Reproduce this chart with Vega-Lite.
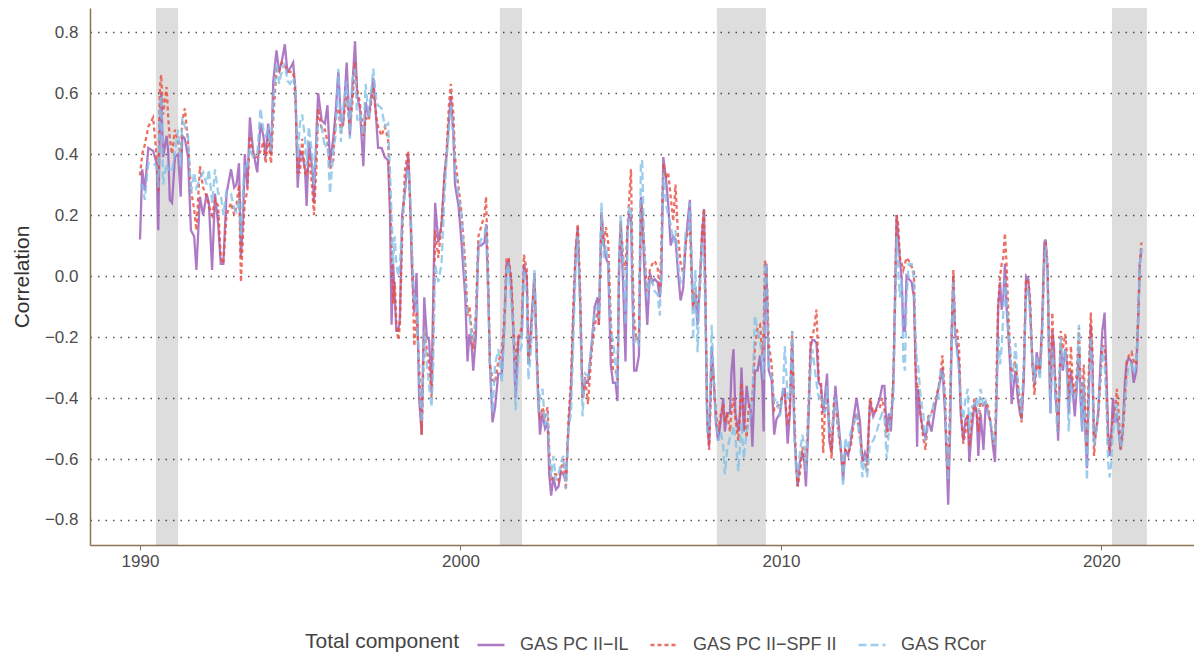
{
 "$schema": "https://vega.github.io/schema/vega-lite/v6.json",
 "width": 1104, "height": 537,
 "autosize": {"type": "none"},
 "padding": {"left": 90, "top": 8, "right": 0, "bottom": 111},
 "background": "white",
 "config": {
  "font": "Liberation Sans",
  "view": {"stroke": null},
  "axis": {"labelFont": "Liberation Sans", "titleFont": "Liberation Sans", "labelColor": "#4d4d4d", "titleColor": "#333333", "domainColor": "#8b7355", "domainWidth": 1.5, "tickColor": "#8b7355", "titleFontWeight": "normal"}
 },
 "datasets": {
  "rec": [
   {"s": 1990.5, "e": 1991.19},
   {"s": 2001.23, "e": 2001.92},
   {"s": 2008.0, "e": 2009.53},
   {"s": 2020.33, "e": 2021.42}
  ],
  "ts": [
{"t":1990.00,"a":0.12,"b":0.33,"c":0.30},
{"t":1990.07,"a":0.35,"b":0.40,"c":0.30},
{"t":1990.15,"a":0.28,"b":0.43,"c":0.25},
{"t":1990.26,"a":0.42,"b":0.49,"c":0.37},
{"t":1990.41,"a":0.41,"b":0.52,"c":0.37},
{"t":1990.52,"a":0.37,"b":0.39,"c":0.36},
{"t":1990.57,"a":0.15,"b":0.28,"c":0.29},
{"t":1990.62,"a":0.51,"b":0.62,"c":0.55},
{"t":1990.66,"a":0.60,"b":0.66,"c":0.59},
{"t":1990.72,"a":0.39,"b":0.53,"c":0.30},
{"t":1990.83,"a":0.46,"b":0.62,"c":0.37},
{"t":1990.88,"a":0.41,"b":0.52,"c":0.35},
{"t":1990.93,"a":0.25,"b":0.45,"c":0.35},
{"t":1991.00,"a":0.24,"b":0.40,"c":0.34},
{"t":1991.09,"a":0.39,"b":0.48,"c":0.41},
{"t":1991.19,"a":0.40,"b":0.44,"c":0.48},
{"t":1991.27,"a":0.26,"b":0.39,"c":0.36},
{"t":1991.32,"a":0.46,"b":0.51,"c":0.52},
{"t":1991.40,"a":0.45,"b":0.55,"c":0.49},
{"t":1991.50,"a":0.39,"b":0.44,"c":0.46},
{"t":1991.59,"a":0.15,"b":0.28,"c":0.27},
{"t":1991.69,"a":0.13,"b":0.22,"c":0.34},
{"t":1991.76,"a":0.02,"b":0.15,"c":0.29},
{"t":1991.87,"a":0.26,"b":0.36,"c":0.32},
{"t":1991.97,"a":0.20,"b":0.29,"c":0.34},
{"t":1992.08,"a":0.27,"b":0.26,"c":0.30},
{"t":1992.15,"a":0.24,"b":0.23,"c":0.35},
{"t":1992.25,"a":0.02,"b":0.20,"c":0.24},
{"t":1992.34,"a":0.27,"b":0.25,"c":0.35},
{"t":1992.44,"a":0.17,"b":0.23,"c":0.27},
{"t":1992.52,"a":0.04,"b":0.06,"c":0.27},
{"t":1992.60,"a":0.04,"b":0.04,"c":0.20},
{"t":1992.70,"a":0.27,"b":0.20,"c":0.28},
{"t":1992.84,"a":0.35,"b":0.24,"c":0.27},
{"t":1992.94,"a":0.29,"b":0.20,"c":0.22},
{"t":1993.01,"a":0.30,"b":0.23,"c":0.21},
{"t":1993.09,"a":0.37,"b":0.30,"c":0.25},
{"t":1993.15,"a":0.06,"b":-0.02,"c":0.13},
{"t":1993.22,"a":0.20,"b":0.15,"c":0.29},
{"t":1993.27,"a":0.40,"b":0.24,"c":0.37},
{"t":1993.35,"a":0.29,"b":0.28,"c":0.36},
{"t":1993.43,"a":0.52,"b":0.46,"c":0.42},
{"t":1993.53,"a":0.41,"b":0.39,"c":0.39},
{"t":1993.66,"a":0.34,"b":0.39,"c":0.40},
{"t":1993.76,"a":0.50,"b":0.41,"c":0.55},
{"t":1993.85,"a":0.46,"b":0.44,"c":0.48},
{"t":1993.92,"a":0.39,"b":0.37,"c":0.46},
{"t":1994.00,"a":0.50,"b":0.45,"c":0.48},
{"t":1994.09,"a":0.40,"b":0.37,"c":0.41},
{"t":1994.16,"a":0.64,"b":0.52,"c":0.57},
{"t":1994.26,"a":0.74,"b":0.68,"c":0.70},
{"t":1994.34,"a":0.67,"b":0.67,"c":0.63},
{"t":1994.42,"a":0.70,"b":0.70,"c":0.67},
{"t":1994.52,"a":0.76,"b":0.69,"c":0.70},
{"t":1994.60,"a":0.67,"b":0.67,"c":0.64},
{"t":1994.68,"a":0.68,"b":0.67,"c":0.63},
{"t":1994.78,"a":0.70,"b":0.67,"c":0.65},
{"t":1994.85,"a":0.61,"b":0.59,"c":0.62},
{"t":1994.92,"a":0.29,"b":0.34,"c":0.39},
{"t":1994.99,"a":0.41,"b":0.34,"c":0.50},
{"t":1995.06,"a":0.40,"b":0.45,"c":0.53},
{"t":1995.15,"a":0.35,"b":0.34,"c":0.45},
{"t":1995.20,"a":0.23,"b":0.33,"c":0.36},
{"t":1995.27,"a":0.44,"b":0.40,"c":0.49},
{"t":1995.38,"a":0.35,"b":0.28,"c":0.39},
{"t":1995.43,"a":0.24,"b":0.20,"c":0.30},
{"t":1995.51,"a":0.48,"b":0.37,"c":0.45},
{"t":1995.56,"a":0.60,"b":0.55,"c":0.50},
{"t":1995.67,"a":0.51,"b":0.48,"c":0.49},
{"t":1995.77,"a":0.50,"b":0.48,"c":0.42},
{"t":1995.85,"a":0.56,"b":0.44,"c":0.44},
{"t":1995.93,"a":0.37,"b":0.35,"c":0.27},
{"t":1996.03,"a":0.45,"b":0.38,"c":0.41},
{"t":1996.10,"a":0.53,"b":0.52,"c":0.46},
{"t":1996.19,"a":0.67,"b":0.55,"c":0.68},
{"t":1996.27,"a":0.51,"b":0.47,"c":0.44},
{"t":1996.34,"a":0.50,"b":0.51,"c":0.55},
{"t":1996.45,"a":0.70,"b":0.59,"c":0.64},
{"t":1996.55,"a":0.46,"b":0.48,"c":0.45},
{"t":1996.62,"a":0.61,"b":0.56,"c":0.64},
{"t":1996.71,"a":0.77,"b":0.70,"c":0.68},
{"t":1996.78,"a":0.59,"b":0.61,"c":0.51},
{"t":1996.86,"a":0.55,"b":0.57,"c":0.53},
{"t":1996.97,"a":0.36,"b":0.46,"c":0.46},
{"t":1997.04,"a":0.57,"b":0.52,"c":0.63},
{"t":1997.14,"a":0.52,"b":0.51,"c":0.52},
{"t":1997.28,"a":0.65,"b":0.62,"c":0.68},
{"t":1997.38,"a":0.50,"b":0.52,"c":0.57},
{"t":1997.43,"a":0.42,"b":0.49,"c":0.56},
{"t":1997.54,"a":0.42,"b":0.46,"c":0.55},
{"t":1997.64,"a":0.39,"b":0.49,"c":0.49},
{"t":1997.74,"a":0.38,"b":0.45,"c":0.50},
{"t":1997.80,"a":0.21,"b":0.27,"c":0.35},
{"t":1997.85,"a":-0.16,"b":0.10,"c":0.20},
{"t":1997.90,"a":0.04,"b":-0.09,"c":0.04},
{"t":1997.95,"a":-0.07,"b":-0.02,"c":0.13},
{"t":1998.00,"a":-0.18,"b":-0.16,"c":0.04},
{"t":1998.06,"a":-0.18,"b":-0.21,"c":0.00},
{"t":1998.11,"a":-0.14,"b":-0.16,"c":0.04},
{"t":1998.18,"a":0.20,"b":0.13,"c":0.17},
{"t":1998.27,"a":0.28,"b":0.35,"c":0.28},
{"t":1998.37,"a":0.40,"b":0.41,"c":0.35},
{"t":1998.42,"a":0.28,"b":0.26,"c":0.29},
{"t":1998.48,"a":0.04,"b":0.10,"c":0.11},
{"t":1998.56,"a":-0.12,"b":-0.23,"c":-0.09},
{"t":1998.63,"a":0.01,"b":-0.12,"c":-0.07},
{"t":1998.71,"a":-0.40,"b":-0.29,"c":-0.34},
{"t":1998.79,"a":-0.52,"b":-0.52,"c":-0.48},
{"t":1998.87,"a":-0.07,"b":-0.18,"c":-0.18},
{"t":1998.95,"a":-0.20,"b":-0.24,"c":-0.29},
{"t":1999.02,"a":-0.21,"b":-0.29,"c":-0.36},
{"t":1999.10,"a":-0.37,"b":-0.40,"c":-0.43},
{"t":1999.15,"a":-0.07,"b":-0.18,"c":-0.29},
{"t":1999.21,"a":0.24,"b":0.15,"c":0.04},
{"t":1999.31,"a":0.11,"b":0.06,"c":-0.02},
{"t":1999.41,"a":0.17,"b":0.17,"c":0.04},
{"t":1999.50,"a":0.33,"b":0.32,"c":0.26},
{"t":1999.57,"a":0.40,"b":0.41,"c":0.39},
{"t":1999.64,"a":0.51,"b":0.56,"c":0.48},
{"t":1999.70,"a":0.59,"b":0.63,"c":0.56},
{"t":1999.78,"a":0.46,"b":0.53,"c":0.46},
{"t":1999.83,"a":0.30,"b":0.39,"c":0.35},
{"t":1999.94,"a":0.23,"b":0.29,"c":0.26},
{"t":2000.04,"a":0.10,"b":0.20,"c":0.20},
{"t":2000.15,"a":-0.07,"b":0.04,"c":-0.01},
{"t":2000.22,"a":-0.28,"b":-0.13,"c":-0.13},
{"t":2000.28,"a":-0.19,"b":-0.10,"c":-0.13},
{"t":2000.35,"a":-0.23,"b":-0.18,"c":-0.21},
{"t":2000.40,"a":-0.31,"b":-0.24,"c":-0.21},
{"t":2000.48,"a":-0.20,"b":-0.12,"c":-0.14},
{"t":2000.56,"a":0.10,"b":0.13,"c":0.09},
{"t":2000.64,"a":0.10,"b":0.16,"c":0.12},
{"t":2000.75,"a":0.11,"b":0.20,"c":0.13},
{"t":2000.80,"a":0.17,"b":0.26,"c":0.17},
{"t":2000.87,"a":-0.07,"b":-0.02,"c":-0.07},
{"t":2000.92,"a":-0.29,"b":-0.29,"c":-0.29},
{"t":2001.00,"a":-0.48,"b":-0.34,"c":-0.45},
{"t":2001.08,"a":-0.43,"b":-0.35,"c":-0.29},
{"t":2001.18,"a":-0.32,"b":-0.28,"c":-0.24},
{"t":2001.29,"a":-0.32,"b":-0.25,"c":-0.35},
{"t":2001.37,"a":-0.16,"b":-0.14,"c":-0.18},
{"t":2001.44,"a":0.04,"b":0.06,"c":0.02},
{"t":2001.50,"a":0.05,"b":0.06,"c":0.04},
{"t":2001.58,"a":-0.02,"b":0.00,"c":-0.08},
{"t":2001.65,"a":-0.18,"b":-0.16,"c":-0.16},
{"t":2001.72,"a":-0.40,"b":-0.29,"c":-0.44},
{"t":2001.81,"a":-0.20,"b":-0.20,"c":-0.26},
{"t":2001.91,"a":-0.20,"b":-0.17,"c":-0.23},
{"t":2001.98,"a":0.04,"b":0.07,"c":0.02},
{"t":2002.07,"a":0.00,"b":0.02,"c":-0.07},
{"t":2002.12,"a":-0.29,"b":-0.29,"c":-0.34},
{"t":2002.19,"a":-0.18,"b":-0.23,"c":-0.26},
{"t":2002.25,"a":-0.09,"b":-0.10,"c":-0.12},
{"t":2002.31,"a":0.01,"b":-0.01,"c":0.02},
{"t":2002.38,"a":-0.26,"b":-0.24,"c":-0.29},
{"t":2002.43,"a":-0.40,"b":-0.40,"c":-0.45},
{"t":2002.48,"a":-0.52,"b":-0.47,"c":-0.39},
{"t":2002.56,"a":-0.45,"b":-0.43,"c":-0.37},
{"t":2002.64,"a":-0.50,"b":-0.46,"c":-0.49},
{"t":2002.72,"a":-0.48,"b":-0.43,"c":-0.45},
{"t":2002.77,"a":-0.65,"b":-0.57,"c":-0.59},
{"t":2002.83,"a":-0.72,"b":-0.67,"c":-0.66},
{"t":2002.90,"a":-0.66,"b":-0.65,"c":-0.59},
{"t":2002.98,"a":-0.70,"b":-0.65,"c":-0.67},
{"t":2003.06,"a":-0.69,"b":-0.67,"c":-0.65},
{"t":2003.14,"a":-0.64,"b":-0.63,"c":-0.61},
{"t":2003.21,"a":-0.65,"b":-0.60,"c":-0.59},
{"t":2003.29,"a":-0.67,"b":-0.70,"c":-0.70},
{"t":2003.37,"a":-0.50,"b":-0.47,"c":-0.50},
{"t":2003.45,"a":-0.37,"b":-0.34,"c":-0.45},
{"t":2003.53,"a":-0.11,"b":-0.07,"c":-0.18},
{"t":2003.60,"a":0.09,"b":0.09,"c":0.04},
{"t":2003.66,"a":0.16,"b":0.17,"c":0.13},
{"t":2003.73,"a":-0.07,"b":-0.02,"c":-0.10},
{"t":2003.81,"a":-0.40,"b":-0.40,"c":-0.46},
{"t":2003.89,"a":-0.35,"b":-0.33,"c":-0.32},
{"t":2003.98,"a":-0.35,"b":-0.42,"c":-0.33},
{"t":2004.09,"a":-0.23,"b":-0.25,"c":-0.23},
{"t":2004.19,"a":-0.10,"b":-0.16,"c":-0.12},
{"t":2004.28,"a":-0.07,"b":-0.12,"c":-0.10},
{"t":2004.32,"a":-0.16,"b":-0.16,"c":-0.14},
{"t":2004.40,"a":0.21,"b":0.20,"c":0.24},
{"t":2004.47,"a":0.11,"b":0.10,"c":0.06},
{"t":2004.54,"a":0.06,"b":0.16,"c":0.10},
{"t":2004.61,"a":0.04,"b":0.11,"c":0.04},
{"t":2004.69,"a":-0.29,"b":-0.14,"c":-0.18},
{"t":2004.76,"a":-0.35,"b":-0.31,"c":-0.21},
{"t":2004.84,"a":-0.35,"b":-0.31,"c":-0.29},
{"t":2004.90,"a":-0.41,"b":-0.34,"c":-0.36},
{"t":2004.95,"a":0.04,"b":0.02,"c":0.04},
{"t":2005.00,"a":0.18,"b":0.17,"c":0.20},
{"t":2005.08,"a":-0.04,"b":0.06,"c":0.04},
{"t":2005.15,"a":-0.28,"b":0.02,"c":-0.16},
{"t":2005.21,"a":0.15,"b":0.15,"c":0.11},
{"t":2005.26,"a":0.20,"b":0.24,"c":0.23},
{"t":2005.32,"a":0.20,"b":0.35,"c":0.22},
{"t":2005.37,"a":-0.06,"b":0.04,"c":-0.07},
{"t":2005.42,"a":-0.31,"b":-0.14,"c":-0.22},
{"t":2005.49,"a":-0.31,"b":-0.21,"c":-0.20},
{"t":2005.57,"a":-0.26,"b":-0.20,"c":-0.23},
{"t":2005.63,"a":0.26,"b":0.24,"c":0.37},
{"t":2005.67,"a":0.21,"b":0.21,"c":0.38},
{"t":2005.73,"a":0.04,"b":0.10,"c":0.11},
{"t":2005.80,"a":-0.10,"b":-0.02,"c":-0.02},
{"t":2005.83,"a":-0.16,"b":-0.05,"c":-0.07},
{"t":2005.91,"a":0.01,"b":0.02,"c":-0.01},
{"t":2005.99,"a":-0.02,"b":0.04,"c":-0.02},
{"t":2006.06,"a":-0.01,"b":0.05,"c":-0.05},
{"t":2006.15,"a":-0.02,"b":0.03,"c":-0.06},
{"t":2006.22,"a":-0.07,"b":-0.05,"c":-0.13},
{"t":2006.27,"a":-0.01,"b":0.10,"c":0.04},
{"t":2006.33,"a":0.39,"b":0.37,"c":0.34},
{"t":2006.41,"a":0.32,"b":0.32,"c":0.24},
{"t":2006.48,"a":0.24,"b":0.34,"c":0.20},
{"t":2006.56,"a":0.10,"b":0.26,"c":0.17},
{"t":2006.64,"a":0.13,"b":0.18,"c":0.11},
{"t":2006.71,"a":0.12,"b":0.30,"c":0.15},
{"t":2006.79,"a":0.01,"b":0.13,"c":0.04},
{"t":2006.87,"a":-0.08,"b":0.04,"c":-0.02},
{"t":2006.95,"a":-0.04,"b":0.01,"c":0.00},
{"t":2007.03,"a":0.11,"b":0.11,"c":0.15},
{"t":2007.11,"a":0.20,"b":0.15,"c":0.15},
{"t":2007.16,"a":0.25,"b":0.17,"c":0.24},
{"t":2007.21,"a":0.04,"b":-0.01,"c":0.04},
{"t":2007.26,"a":-0.10,"b":-0.11,"c":-0.21},
{"t":2007.33,"a":-0.06,"b":-0.04,"c":0.02},
{"t":2007.40,"a":-0.16,"b":-0.10,"c":-0.25},
{"t":2007.47,"a":-0.02,"b":-0.05,"c":-0.02},
{"t":2007.54,"a":0.14,"b":0.15,"c":0.11},
{"t":2007.60,"a":0.22,"b":0.22,"c":0.04},
{"t":2007.65,"a":-0.12,"b":-0.12,"c":-0.16},
{"t":2007.70,"a":-0.48,"b":-0.45,"c":-0.51},
{"t":2007.76,"a":-0.56,"b":-0.57,"c":-0.51},
{"t":2007.84,"a":-0.23,"b":-0.29,"c":-0.16},
{"t":2007.91,"a":-0.35,"b":-0.35,"c":-0.35},
{"t":2007.97,"a":-0.48,"b":-0.44,"c":-0.46},
{"t":2008.04,"a":-0.54,"b":-0.51,"c":-0.54},
{"t":2008.13,"a":-0.47,"b":-0.45,"c":-0.51},
{"t":2008.20,"a":-0.40,"b":-0.42,"c":-0.56},
{"t":2008.25,"a":-0.51,"b":-0.48,"c":-0.65},
{"t":2008.32,"a":-0.45,"b":-0.45,"c":-0.57},
{"t":2008.41,"a":-0.45,"b":-0.51,"c":-0.53},
{"t":2008.46,"a":-0.31,"b":-0.44,"c":-0.53},
{"t":2008.52,"a":-0.24,"b":-0.40,"c":-0.49},
{"t":2008.58,"a":-0.45,"b":-0.47,"c":-0.53},
{"t":2008.67,"a":-0.51,"b":-0.54,"c":-0.64},
{"t":2008.72,"a":-0.45,"b":-0.47,"c":-0.56},
{"t":2008.77,"a":-0.30,"b":-0.35,"c":-0.48},
{"t":2008.84,"a":-0.51,"b":-0.45,"c":-0.60},
{"t":2008.93,"a":-0.36,"b":-0.53,"c":-0.51},
{"t":2009.00,"a":-0.42,"b":-0.43,"c":-0.48},
{"t":2009.06,"a":-0.44,"b":-0.42,"c":-0.45},
{"t":2009.11,"a":-0.56,"b":-0.40,"c":-0.40},
{"t":2009.19,"a":-0.31,"b":-0.23,"c":-0.13},
{"t":2009.27,"a":-0.31,"b":-0.17,"c":-0.18},
{"t":2009.35,"a":-0.26,"b":-0.16,"c":-0.21},
{"t":2009.42,"a":-0.35,"b":-0.26,"c":-0.29},
{"t":2009.46,"a":-0.51,"b":-0.18,"c":-0.34},
{"t":2009.50,"a":-0.05,"b":0.05,"c":0.04},
{"t":2009.55,"a":0.04,"b":0.02,"c":0.04},
{"t":2009.58,"a":-0.14,"b":-0.07,"c":-0.12},
{"t":2009.62,"a":-0.31,"b":-0.22,"c":-0.29},
{"t":2009.71,"a":-0.34,"b":-0.29,"c":-0.33},
{"t":2009.79,"a":-0.52,"b":-0.44,"c":-0.41},
{"t":2009.86,"a":-0.47,"b":-0.43,"c":-0.40},
{"t":2009.97,"a":-0.45,"b":-0.42,"c":-0.46},
{"t":2010.07,"a":-0.37,"b":-0.39,"c":-0.37},
{"t":2010.12,"a":-0.37,"b":-0.39,"c":-0.23},
{"t":2010.21,"a":-0.55,"b":-0.49,"c":-0.40},
{"t":2010.28,"a":-0.45,"b":-0.42,"c":-0.40},
{"t":2010.35,"a":-0.21,"b":-0.18,"c":-0.18},
{"t":2010.42,"a":-0.51,"b":-0.45,"c":-0.51},
{"t":2010.47,"a":-0.61,"b":-0.61,"c":-0.63},
{"t":2010.52,"a":-0.69,"b":-0.69,"c":-0.66},
{"t":2010.59,"a":-0.61,"b":-0.65,"c":-0.58},
{"t":2010.67,"a":-0.58,"b":-0.56,"c":-0.52},
{"t":2010.73,"a":-0.61,"b":-0.60,"c":-0.56},
{"t":2010.78,"a":-0.69,"b":-0.61,"c":-0.64},
{"t":2010.85,"a":-0.51,"b":-0.46,"c":-0.45},
{"t":2010.93,"a":-0.23,"b":-0.20,"c":-0.29},
{"t":2010.98,"a":-0.21,"b":-0.20,"c":-0.24},
{"t":2011.04,"a":-0.21,"b":-0.17,"c":-0.29},
{"t":2011.11,"a":-0.22,"b":-0.11,"c":-0.35},
{"t":2011.18,"a":-0.35,"b":-0.34,"c":-0.40},
{"t":2011.25,"a":-0.36,"b":-0.35,"c":-0.39},
{"t":2011.32,"a":-0.45,"b":-0.58,"c":-0.42},
{"t":2011.37,"a":-0.40,"b":-0.45,"c":-0.45},
{"t":2011.44,"a":-0.32,"b":-0.40,"c":-0.36},
{"t":2011.51,"a":-0.54,"b":-0.48,"c":-0.51},
{"t":2011.58,"a":-0.58,"b":-0.60,"c":-0.51},
{"t":2011.65,"a":-0.45,"b":-0.42,"c":-0.45},
{"t":2011.70,"a":-0.36,"b":-0.42,"c":-0.40},
{"t":2011.79,"a":-0.47,"b":-0.51,"c":-0.51},
{"t":2011.87,"a":-0.57,"b":-0.57,"c":-0.54},
{"t":2011.94,"a":-0.67,"b":-0.65,"c":-0.69},
{"t":2012.01,"a":-0.57,"b":-0.57,"c":-0.53},
{"t":2012.10,"a":-0.59,"b":-0.58,"c":-0.57},
{"t":2012.18,"a":-0.54,"b":-0.56,"c":-0.51},
{"t":2012.26,"a":-0.47,"b":-0.49,"c":-0.49},
{"t":2012.36,"a":-0.40,"b":-0.45,"c":-0.45},
{"t":2012.47,"a":-0.48,"b":-0.53,"c":-0.54},
{"t":2012.54,"a":-0.61,"b":-0.59,"c":-0.66},
{"t":2012.62,"a":-0.58,"b":-0.61,"c":-0.59},
{"t":2012.69,"a":-0.61,"b":-0.64,"c":-0.66},
{"t":2012.78,"a":-0.41,"b":-0.40,"c":-0.55},
{"t":2012.88,"a":-0.46,"b":-0.45,"c":-0.54},
{"t":2012.99,"a":-0.43,"b":-0.44,"c":-0.51},
{"t":2013.09,"a":-0.40,"b":-0.43,"c":-0.47},
{"t":2013.16,"a":-0.36,"b":-0.40,"c":-0.45},
{"t":2013.23,"a":-0.36,"b":-0.44,"c":-0.46},
{"t":2013.30,"a":-0.51,"b":-0.53,"c":-0.60},
{"t":2013.37,"a":-0.45,"b":-0.49,"c":-0.51},
{"t":2013.43,"a":-0.51,"b":-0.48,"c":-0.45},
{"t":2013.51,"a":-0.34,"b":-0.34,"c":-0.40},
{"t":2013.56,"a":-0.07,"b":-0.09,"c":-0.12},
{"t":2013.61,"a":0.20,"b":0.20,"c":0.13},
{"t":2013.66,"a":0.13,"b":0.17,"c":0.02},
{"t":2013.71,"a":0.06,"b":0.06,"c":-0.07},
{"t":2013.77,"a":-0.01,"b":0.04,"c":-0.01},
{"t":2013.82,"a":-0.18,"b":0.02,"c":-0.28},
{"t":2013.87,"a":-0.18,"b":0.04,"c":-0.31},
{"t":2013.92,"a":0.00,"b":0.06,"c":-0.07},
{"t":2013.99,"a":-0.01,"b":0.05,"c":0.04},
{"t":2014.08,"a":-0.02,"b":0.03,"c":0.04},
{"t":2014.15,"a":-0.07,"b":0.02,"c":-0.01},
{"t":2014.20,"a":-0.29,"b":-0.29,"c":-0.20},
{"t":2014.25,"a":-0.56,"b":-0.37,"c":-0.29},
{"t":2014.28,"a":-0.37,"b":-0.36,"c":-0.29},
{"t":2014.36,"a":-0.46,"b":-0.46,"c":-0.40},
{"t":2014.44,"a":-0.51,"b":-0.53,"c":-0.45},
{"t":2014.51,"a":-0.53,"b":-0.57,"c":-0.54},
{"t":2014.60,"a":-0.47,"b":-0.46,"c":-0.47},
{"t":2014.70,"a":-0.51,"b":-0.45,"c":-0.45},
{"t":2014.81,"a":-0.43,"b":-0.41,"c":-0.40},
{"t":2014.91,"a":-0.37,"b":-0.37,"c":-0.40},
{"t":2014.98,"a":-0.34,"b":-0.32,"c":-0.31},
{"t":2015.04,"a":-0.30,"b":-0.26,"c":-0.31},
{"t":2015.12,"a":-0.45,"b":-0.40,"c":-0.40},
{"t":2015.17,"a":-0.59,"b":-0.56,"c":-0.57},
{"t":2015.22,"a":-0.75,"b":-0.66,"c":-0.67},
{"t":2015.28,"a":-0.51,"b":-0.40,"c":-0.45},
{"t":2015.33,"a":-0.18,"b":-0.18,"c":-0.18},
{"t":2015.38,"a":0.00,"b":0.02,"c":-0.02},
{"t":2015.43,"a":-0.18,"b":-0.16,"c":-0.18},
{"t":2015.50,"a":-0.24,"b":-0.18,"c":-0.26},
{"t":2015.56,"a":-0.29,"b":-0.24,"c":-0.32},
{"t":2015.61,"a":-0.45,"b":-0.42,"c":-0.40},
{"t":2015.69,"a":-0.54,"b":-0.55,"c":-0.47},
{"t":2015.76,"a":-0.47,"b":-0.51,"c":-0.40},
{"t":2015.83,"a":-0.46,"b":-0.45,"c":-0.37},
{"t":2015.88,"a":-0.61,"b":-0.56,"c":-0.51},
{"t":2015.95,"a":-0.51,"b":-0.47,"c":-0.43},
{"t":2016.04,"a":-0.42,"b":-0.40,"c":-0.42},
{"t":2016.11,"a":-0.45,"b":-0.45,"c":-0.40},
{"t":2016.16,"a":-0.59,"b":-0.51,"c":-0.45},
{"t":2016.23,"a":-0.45,"b":-0.40,"c":-0.37},
{"t":2016.32,"a":-0.57,"b":-0.43,"c":-0.43},
{"t":2016.39,"a":-0.42,"b":-0.41,"c":-0.41},
{"t":2016.47,"a":-0.45,"b":-0.43,"c":-0.45},
{"t":2016.54,"a":-0.48,"b":-0.48,"c":-0.48},
{"t":2016.63,"a":-0.57,"b":-0.54,"c":-0.54},
{"t":2016.68,"a":-0.61,"b":-0.56,"c":-0.55},
{"t":2016.73,"a":-0.40,"b":-0.31,"c":-0.40},
{"t":2016.78,"a":-0.10,"b":-0.09,"c":-0.20},
{"t":2016.84,"a":-0.02,"b":0.00,"c":-0.29},
{"t":2016.89,"a":-0.11,"b":0.04,"c":-0.23},
{"t":2016.94,"a":-0.07,"b":0.06,"c":-0.12},
{"t":2016.99,"a":0.04,"b":0.14,"c":-0.01},
{"t":2017.04,"a":-0.10,"b":0.04,"c":-0.06},
{"t":2017.10,"a":-0.20,"b":-0.13,"c":-0.18},
{"t":2017.15,"a":-0.29,"b":-0.24,"c":-0.23},
{"t":2017.20,"a":-0.42,"b":-0.33,"c":-0.35},
{"t":2017.27,"a":-0.35,"b":-0.29,"c":-0.29},
{"t":2017.32,"a":-0.31,"b":-0.28,"c":-0.22},
{"t":2017.39,"a":-0.40,"b":-0.35,"c":-0.35},
{"t":2017.46,"a":-0.45,"b":-0.42,"c":-0.40},
{"t":2017.51,"a":-0.47,"b":-0.48,"c":-0.45},
{"t":2017.58,"a":-0.34,"b":-0.29,"c":-0.29},
{"t":2017.65,"a":0.00,"b":-0.01,"c":-0.07},
{"t":2017.72,"a":-0.01,"b":-0.02,"c":-0.04},
{"t":2017.77,"a":-0.09,"b":-0.07,"c":-0.12},
{"t":2017.85,"a":-0.29,"b":-0.29,"c":-0.29},
{"t":2017.91,"a":-0.36,"b":-0.39,"c":-0.35},
{"t":2017.98,"a":-0.25,"b":-0.29,"c":-0.26},
{"t":2018.08,"a":-0.31,"b":-0.32,"c":-0.34},
{"t":2018.15,"a":-0.16,"b":-0.18,"c":-0.21},
{"t":2018.22,"a":0.11,"b":0.06,"c":0.04},
{"t":2018.26,"a":0.12,"b":0.11,"c":0.10},
{"t":2018.32,"a":0.02,"b":0.04,"c":0.02},
{"t":2018.36,"a":-0.23,"b":-0.18,"c":-0.23},
{"t":2018.41,"a":-0.45,"b":-0.37,"c":-0.45},
{"t":2018.47,"a":-0.18,"b":-0.12,"c":-0.24},
{"t":2018.52,"a":-0.23,"b":-0.29,"c":-0.30},
{"t":2018.57,"a":-0.40,"b":-0.34,"c":-0.40},
{"t":2018.62,"a":-0.45,"b":-0.43,"c":-0.51},
{"t":2018.65,"a":-0.54,"b":-0.51,"c":-0.47},
{"t":2018.73,"a":-0.23,"b":-0.18,"c":-0.20},
{"t":2018.80,"a":-0.31,"b":-0.24,"c":-0.29},
{"t":2018.87,"a":-0.24,"b":-0.19,"c":-0.24},
{"t":2018.93,"a":-0.29,"b":-0.26,"c":-0.34},
{"t":2018.98,"a":-0.45,"b":-0.40,"c":-0.51},
{"t":2019.05,"a":-0.31,"b":-0.23,"c":-0.35},
{"t":2019.10,"a":-0.37,"b":-0.34,"c":-0.40},
{"t":2019.17,"a":-0.46,"b":-0.39,"c":-0.40},
{"t":2019.23,"a":-0.37,"b":-0.32,"c":-0.35},
{"t":2019.30,"a":-0.24,"b":-0.17,"c":-0.16},
{"t":2019.35,"a":-0.40,"b":-0.35,"c":-0.40},
{"t":2019.40,"a":-0.51,"b":-0.40,"c":-0.51},
{"t":2019.45,"a":-0.35,"b":-0.29,"c":-0.34},
{"t":2019.50,"a":-0.51,"b":-0.45,"c":-0.51},
{"t":2019.55,"a":-0.63,"b":-0.56,"c":-0.67},
{"t":2019.60,"a":-0.40,"b":-0.34,"c":-0.45},
{"t":2019.67,"a":-0.16,"b":-0.12,"c":-0.20},
{"t":2019.72,"a":-0.29,"b":-0.24,"c":-0.34},
{"t":2019.77,"a":-0.54,"b":-0.59,"c":-0.56},
{"t":2019.83,"a":-0.51,"b":-0.51,"c":-0.52},
{"t":2019.90,"a":-0.45,"b":-0.46,"c":-0.43},
{"t":2019.97,"a":-0.29,"b":-0.34,"c":-0.34},
{"t":2020.03,"a":-0.18,"b":-0.23,"c":-0.23},
{"t":2020.10,"a":-0.12,"b":-0.23,"c":-0.29},
{"t":2020.15,"a":-0.29,"b":-0.34,"c":-0.40},
{"t":2020.21,"a":-0.51,"b":-0.56,"c":-0.61},
{"t":2020.26,"a":-0.59,"b":-0.57,"c":-0.66},
{"t":2020.31,"a":-0.51,"b":-0.54,"c":-0.61},
{"t":2020.36,"a":-0.40,"b":-0.46,"c":-0.51},
{"t":2020.41,"a":-0.48,"b":-0.47,"c":-0.48},
{"t":2020.48,"a":-0.45,"b":-0.37,"c":-0.42},
{"t":2020.54,"a":-0.51,"b":-0.45,"c":-0.51},
{"t":2020.60,"a":-0.57,"b":-0.57,"c":-0.56},
{"t":2020.66,"a":-0.51,"b":-0.53,"c":-0.51},
{"t":2020.74,"a":-0.34,"b":-0.40,"c":-0.40},
{"t":2020.79,"a":-0.28,"b":-0.29,"c":-0.34},
{"t":2020.86,"a":-0.27,"b":-0.26,"c":-0.29},
{"t":2020.94,"a":-0.28,"b":-0.25,"c":-0.29},
{"t":2021.01,"a":-0.35,"b":-0.28,"c":-0.32},
{"t":2021.09,"a":-0.31,"b":-0.29,"c":-0.29},
{"t":2021.15,"a":-0.14,"b":-0.12,"c":-0.14},
{"t":2021.20,"a":0.04,"b":0.04,"c":0.04},
{"t":2021.25,"a":0.09,"b":0.11,"c":0.09}
  ]
 },
 "layer": [
  {
   "data": {"name": "rec"},
   "mark": {"type": "rect", "fill": "#000000", "opacity": 0.135},
   "encoding": {
    "x": {"field": "s", "type": "quantitative", "scale": {"domain": [1988.44, 2022.89], "nice": false, "zero": false}},
    "x2": {"field": "e"}
   }
  },
  {
   "data": {"name": "ts"},
   "transform": [{"fold": ["a", "b", "c"], "as": ["k", "v"]}],
   "mark": {"type": "line", "strokeWidth": 2.3, "opacity": 0.8},
   "encoding": {
    "x": {"field": "t", "type": "quantitative", "scale": {"domain": [1988.44, 2022.89], "nice": false, "zero": false},
     "axis": {"title": null, "values": [1990, 2000, 2010, 2020], "format": "d", "grid": false, "labelFontSize": 17, "tickSize": 5, "labelPadding": 3}},
    "y": {"field": "v", "type": "quantitative", "scale": {"domain": [-0.882, 0.879], "nice": false, "zero": false},
     "axis": {"title": "Correlation", "values": [-0.8, -0.6, -0.4, -0.2, 0, 0.2, 0.4, 0.6, 0.8], "format": ".1f", "grid": true, "gridColor": "#555555", "gridDash": [1.5, 6], "gridWidth": 1.3, "ticks": false, "labelPadding": 12, "labelFontSize": 17, "titleFontSize": 21, "titlePadding": 12}},
    "color": {"field": "k", "type": "nominal", "scale": {"domain": ["a", "b", "c"], "range": ["#9B59B6", "#E74C3C", "#85C1E9"]},
     "legend": {"orient": "none", "legendX": 215, "legendY": 622, "direction": "horizontal", "title": "Total component", "titleOrient": "left", "titleFontSize": 21, "titleFontWeight": "normal", "titleColor": "#444444", "titlePadding": 16, "labelFontSize": 18, "labelColor": "#4d4d4d", "symbolType": "stroke", "symbolSize": 729, "symbolStrokeWidth": 2.5, "labelOffset": 14, "columnPadding": 16,
      "labelExpr": "datum.label == 'a' ? 'GAS PC II−IL' : datum.label == 'b' ? 'GAS PC II−SPF II' : 'GAS RCor'"}},
    "strokeDash": {"field": "k", "type": "nominal", "scale": {"domain": ["a", "b", "c"], "range": [[1, 0], [4, 3], [8, 4]]},
     "legend": {"orient": "none", "legendX": 215, "legendY": 622, "direction": "horizontal", "title": "Total component", "titleOrient": "left", "titleFontSize": 21, "titleFontWeight": "normal", "titleColor": "#444444", "titlePadding": 16, "labelFontSize": 18, "labelColor": "#4d4d4d", "symbolType": "stroke", "symbolSize": 729, "symbolStrokeWidth": 2.5, "labelOffset": 14, "columnPadding": 16,
      "labelExpr": "datum.label == 'a' ? 'GAS PC II−IL' : datum.label == 'b' ? 'GAS PC II−SPF II' : 'GAS RCor'"}}
   }
  }
 ]
}
